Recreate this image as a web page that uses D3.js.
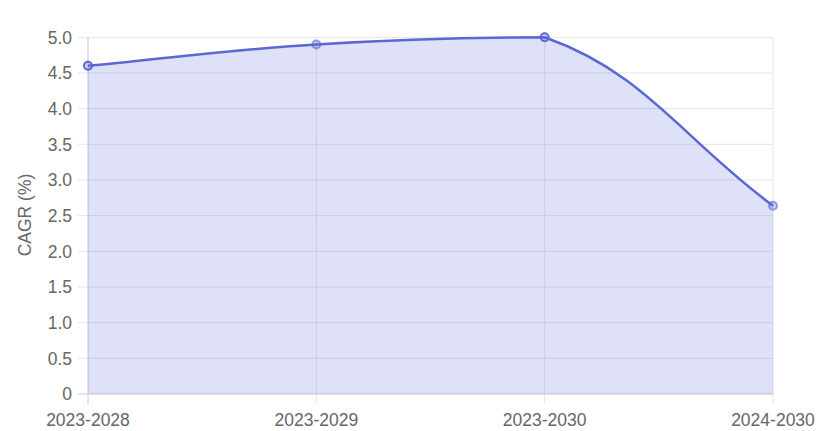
<!DOCTYPE html>
<html lang="en">
<head>
    <meta charset="UTF-8">
    <title>CAGR</title>
    <script src="https://d3js.org/d3.v7.min.js"></script>
    <style>
        body { margin: 0; background: #fff; }
        svg text { font-family: "Liberation Sans", Arial, sans-serif; fill: #666; font-size: 17.5px; }
    </style>
</head>
<body>
    <svg width="831" height="431"></svg>
    <script>
        const periods = ["2023-2028", "2023-2029", "2023-2030", "2024-2030"];
        const cagr = [4.6, 4.9, 5.0, 2.64];
        const yTicks = [0, 0.5, 1, 1.5, 2, 2.5, 3, 3.5, 4, 4.5, 5];

        const svg = d3.select("svg");
        const plotLeft = 88, plotRight = 773, plotTop = 37.3, plotBottom = 394;
        const lineColor = "rgb(92,103,214)";
        const tension = 0.4;

        const x = d3.scalePoint().domain(periods).range([plotLeft, plotRight]);
        const y = d3.scaleLinear().domain([0, 5]).range([plotBottom, plotTop]);

        // horizontal grid + ticks
        svg.selectAll(".hgrid")
            .data(yTicks)
            .enter().append("line")
            .attr("x1", plotLeft - 10)
            .attr("x2", plotRight)
            .attr("y1", d => y(d))
            .attr("y2", d => y(d))
            .attr("stroke", "#e5e5e5")
            .attr("stroke-width", 1);

        // vertical grid
        svg.selectAll(".vgrid")
            .data(periods)
            .enter().append("line")
            .attr("x1", d => x(d))
            .attr("x2", d => x(d))
            .attr("y1", plotTop)
            .attr("y2", plotBottom + 10)
            .attr("stroke", "#e5e5e5")
            .attr("stroke-width", 1);

        // axis border lines
        svg.append("line")
            .attr("x1", plotLeft).attr("x2", plotLeft)
            .attr("y1", plotTop).attr("y2", plotBottom + 10)
            .attr("stroke", "#d6d6d6");
        svg.append("line")
            .attr("x1", plotLeft - 10).attr("x2", plotRight)
            .attr("y1", plotBottom).attr("y2", plotBottom)
            .attr("stroke", "#d6d6d6");

        const pts = periods.map((p, i) => ({ x: x(p), y: y(cagr[i]) }));

        // bezier control points, tension 0.4, capped to the plot area
        const clampY = v => Math.max(plotTop, Math.min(plotBottom, v));
        const ctrl = pts.map((p, i) => {
            const a = pts[Math.max(i - 1, 0)];
            const b = pts[Math.min(i + 1, pts.length - 1)];
            const d01 = Math.hypot(p.x - a.x, p.y - a.y);
            const d12 = Math.hypot(b.x - p.x, b.y - p.y);
            const tot = d01 + d12 || 1;
            const fa = tension * d01 / tot, fb = tension * d12 / tot;
            return {
                px: p.x - fa * (b.x - a.x), py: clampY(p.y - fa * (b.y - a.y)),
                nx: p.x + fb * (b.x - a.x), ny: clampY(p.y + fb * (b.y - a.y))
            };
        });

        function curvePath(closeArea) {
            const path = d3.path();
            path.moveTo(pts[0].x, pts[0].y);
            for (let i = 1; i < pts.length; i++) {
                path.bezierCurveTo(ctrl[i - 1].nx, ctrl[i - 1].ny, ctrl[i].px, ctrl[i].py, pts[i].x, pts[i].y);
            }
            if (closeArea) {
                path.lineTo(pts[pts.length - 1].x, plotBottom);
                path.lineTo(pts[0].x, plotBottom);
                path.closePath();
            }
            return path.toString();
        }

        svg.append("path")
            .attr("d", curvePath(true))
            .attr("fill", "rgba(92,103,214,0.2)");

        svg.append("path")
            .attr("d", curvePath(false))
            .attr("fill", "none")
            .attr("stroke", lineColor)
            .attr("stroke-width", 2.5);

        svg.selectAll(".pt")
            .data(pts)
            .enter().append("circle")
            .attr("cx", d => d.x)
            .attr("cy", d => d.y)
            .attr("r", 4)
            .attr("fill", "rgba(92,103,214,0.3)")
            .attr("stroke", (d, i) => i % 2 === 0 ? lineColor : "rgba(92,103,214,0.6)")
            .attr("stroke-width", 2);

        // y tick labels
        svg.selectAll(".ylab")
            .data(yTicks)
            .enter().append("text")
            .attr("x", 72)
            .attr("y", d => y(d))
            .attr("dy", "0.36em")
            .attr("text-anchor", "end")
            .text(d => d === 0 ? "0" : d3.format(".1f")(d));

        // x tick labels
        svg.selectAll(".xlab")
            .data(periods)
            .enter().append("text")
            .attr("x", d => x(d))
            .attr("y", 426)
            .attr("text-anchor", "middle")
            .text(d => d);

        // y axis title
        svg.append("text")
            .attr("transform", "translate(31,215) rotate(-90)")
            .attr("text-anchor", "middle")
            .text("CAGR (%)");
    </script>
</body>
</html>
